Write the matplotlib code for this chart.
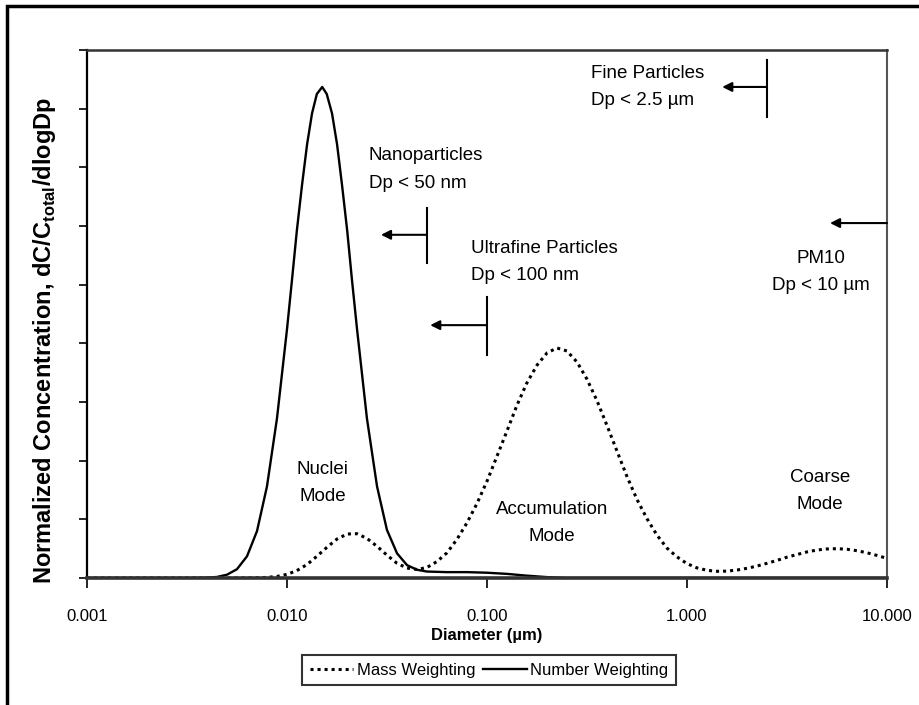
import matplotlib
matplotlib.use('Agg')
import matplotlib.pyplot as plt
from matplotlib import font_manager
from matplotlib.patches import Rectangle

# Values
diam_number = [0.001, 0.002, 0.0032, 0.00398, 0.00447, 0.00501, 0.00562, 0.00631, 0.00708,
               0.00794, 0.00891, 0.01, 0.01059, 0.0112, 0.01189, 0.0126, 0.01334, 0.0141,
               0.0150, 0.0158, 0.01679, 0.0178, 0.01884, 0.02, 0.02113,
               0.0224, 0.0251, 0.0282, 0.0316, 0.0355, 0.0398, 0.0447, 0.0501, 0.0631, 0.0794,
               0.1, 0.126, 0.158, 0.2, 0.251, 1.0, 10.0]
number_weighting = [0, 0, 0, 0.005, 0.018, 0.056, 0.15, 0.37, 0.80,
                    1.56, 2.72, 4.24, 5.08, 5.92, 6.70, 7.39, 7.92, 8.25,
                    8.37, 8.25, 7.92, 7.39, 6.70, 5.92, 5.08,
                    4.24, 2.72, 1.56, 0.82, 0.42, 0.22, 0.14, 0.11, 0.10, 0.10,
                    0.09, 0.07, 0.04, 0.015, 0, 0, 0]

diam_mass = [0.001, 0.0032, 0.00501, 0.00631, 0.00708, 0.00794, 0.00891, 0.01, 0.0112, 0.0126,
             0.0141, 0.0158, 0.0178, 0.02, 0.0224, 0.0251, 0.0282, 0.0316, 0.0355, 0.0398,
             0.0447, 0.0501, 0.0562, 0.0631, 0.0708, 0.0794, 0.0891, 0.1, 0.112, 0.126,
             0.141, 0.158, 0.178, 0.2, 0.224, 0.251, 0.282, 0.316, 0.355, 0.398,
             0.447, 0.501, 0.562, 0.631, 0.708, 0.794, 0.891, 1.0, 1.12, 1.26,
             1.41, 1.58, 1.78, 2.0, 2.24, 2.51, 2.82, 3.16, 3.55, 3.98,
             4.47, 5.01, 5.62, 6.31, 7.08, 7.94, 8.91, 10.0]
mass_weighting = [0, 0, 0, 0.001, 0.004, 0.01, 0.027, 0.062, 0.126, 0.23,
                  0.37, 0.52, 0.665, 0.75, 0.755, 0.675, 0.54, 0.39, 0.25, 0.17,
                  0.145, 0.18, 0.28, 0.43, 0.66, 0.94, 1.27, 1.65, 2.07, 2.51,
                  2.94, 3.32, 3.63, 3.84, 3.92, 3.87, 3.68, 3.39, 3.02, 2.60,
                  2.16, 1.73, 1.34, 1.01, 0.73, 0.51, 0.36, 0.245, 0.173, 0.131,
                  0.114, 0.117, 0.136, 0.166, 0.204, 0.25, 0.30, 0.355, 0.40, 0.445,
                  0.477, 0.495, 0.50, 0.49, 0.465, 0.43, 0.385, 0.335]

x_ticks = [0.001, 0.01, 0.1, 1.0, 10.0]
x_tick_labels = ['0.001', '0.010', '0.100', '1.000', '10.000']
y_ticks = [0, 1, 2, 3, 4, 5, 6, 7, 8, 9]

# cut sizes (um) used by the size classes
cut_nano = 0.05
cut_ultrafine = 0.1
cut_fine = 2.5
cut_pm10 = 10.0

# narrow font if available
nomes = {f.name for f in font_manager.fontManager.ttflist}
fonte = 'Liberation Sans Narrow' if 'Liberation Sans Narrow' in nomes else 'Liberation Sans'
plt.rcParams['font.family'] = [fonte, 'DejaVu Sans']
plt.rcParams['mathtext.fontset'] = 'custom'
plt.rcParams['mathtext.rm'] = fonte
plt.rcParams['mathtext.bf'] = fonte + ':bold'

fig = plt.figure(figsize=(9.2, 7.05), dpi=100)
ax = fig.add_axes([87 / 920, 1 - 578 / 705, 800 / 920, 528 / 705])

# outer frame (cropped on right and bottom)
fig.patches.append(Rectangle((7 / 920, -0.1), 1.2, 1.1 - 6 / 705, transform=fig.transFigure,
                             fill=False, edgecolor='black', linewidth=2.5, clip_on=False))

ax.plot(diam_mass, mass_weighting, color='black', linewidth=2.2,
        linestyle=(0, (1, 1.3)), label='Mass Weighting')
ax.plot(diam_number, number_weighting, color='black', linewidth=1.7,
        label='Number Weighting')

ax.set_xscale('log')
ax.set_xlim(0.001, 10.0)
ax.set_ylim(0, 9)
ax.set_xticks(x_ticks)
ax.set_xticklabels(x_tick_labels)
ax.xaxis.set_minor_locator(matplotlib.ticker.NullLocator())
ax.set_yticks(y_ticks)
ax.set_yticklabels([])
ax.tick_params(axis='x', direction='out', length=7, width=1.2, pad=15, labelsize=12)
ax.tick_params(axis='y', direction='out', length=6, width=1.2)

ax.spines['bottom'].set_linewidth(2.6)
ax.spines['bottom'].set_color('#333333')
ax.spines['left'].set_linewidth(1.6)
ax.spines['top'].set_linewidth(1.8)
ax.spines['top'].set_color('#333333')
ax.spines['right'].set_linewidth(1.5)
ax.spines['right'].set_color('#555555')

ax.set_xlabel('Diameter (µm)', fontsize=12, fontweight='bold', labelpad=3)
ax.set_ylabel(r'Normalized Concentration, dC/C$_{\mathbf{total}}$/dlogDp',
              fontsize=17, fontweight='bold')
ax.yaxis.set_label_coords(-0.036, 0.45)

# size class markers
seta = dict(arrowstyle='-|>', color='black', lw=1.5, mutation_scale=14, shrinkA=0, shrinkB=0)
txt = dict(fontsize=13.5, linespacing=1.8)

ax.plot([cut_fine, cut_fine], [7.86, 8.83], color='black', linewidth=1.5)
ax.annotate('', xy=(1.5, 8.37), xytext=(cut_fine, 8.37), arrowprops=seta)
ax.text(0.331, 8.37, 'Fine Particles\nDp < 2.5 µm', ha='left', va='center', **txt)

ax.plot([cut_nano, cut_nano], [5.37, 6.31], color='black', linewidth=1.5)
ax.annotate('', xy=(0.0295, 5.85), xytext=(cut_nano, 5.85), arrowprops=seta)
ax.text(0.0257, 6.96, 'Nanoparticles\nDp < 50 nm', ha='left', va='center', **txt)

ax.plot([cut_ultrafine, cut_ultrafine], [3.80, 4.79], color='black', linewidth=1.5)
ax.annotate('', xy=(0.052, 4.31), xytext=(cut_ultrafine, 4.31), arrowprops=seta)
ax.text(0.0832, 5.39, 'Ultrafine Particles\nDp < 100 nm', ha='left', va='center', **txt)

ax.annotate('', xy=(5.19, 6.05), xytext=(cut_pm10, 6.05), arrowprops=seta)
ax.text(4.68, 5.22, 'PM10\nDp < 10 µm', ha='center', va='center',
        multialignment='center', **txt)

# mode labels
ax.text(0.0151, 1.62, 'Nuclei\nMode', ha='center', va='center', **txt)
ax.text(0.211, 0.94, 'Accumulation\nMode', ha='center', va='center', **txt)
ax.text(4.62, 1.48, 'Coarse\nMode', ha='center', va='center', **txt)

leg = fig.legend(loc='center', bbox_to_anchor=(489 / 920, 1 - 670 / 705), ncol=2,
                 fontsize=12, frameon=True, fancybox=False, edgecolor='black',
                 handlelength=2.6, handletextpad=0.2, columnspacing=0.5, borderpad=0.45)
leg.get_frame().set_linewidth(1.5)

plt.savefig('out.png', dpi=100)
